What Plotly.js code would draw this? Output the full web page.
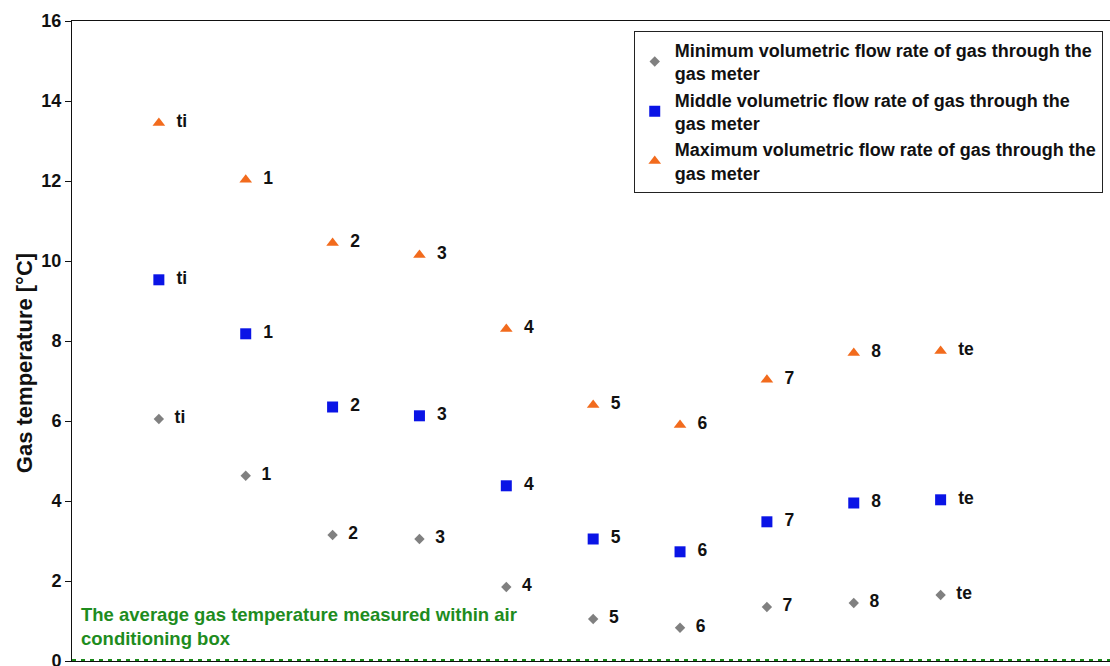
<!DOCTYPE html>
<html>
<head>
<meta charset="utf-8">
<script src="https://cdn.plot.ly/plotly-3.0.1.min.js"></script>
<style>html,body{margin:0;padding:0;background:#fff;}#chart{width:1110px;height:666px;}</style>
</head>
<body>
<div id="chart"></div>
<script>
const pointLabels = ['ti','1','2','3','4','5','6','7','8','te'];
const positions = [1,2,3,4,5,6,7,8,9,10];
const minFlow = [6.05,4.63,3.15,3.05,1.85,1.05,0.83,1.35,1.45,1.65];
const midFlow = [9.53,8.18,6.35,6.13,4.38,3.05,2.73,3.48,3.95,4.03];
const maxFlow = [13.45,12.03,10.45,10.15,8.3,6.4,5.9,7.03,7.7,7.75];
const seriesNames = [
  'Minimum volumetric flow rate of gas through the<br>gas meter',
  'Middle volumetric flow rate of gas through the<br>gas meter',
  'Maximum volumetric flow rate of gas through the<br>gas meter'
];
const yTicks = [0,2,4,6,8,10,12,14,16];
const yTitle = 'Gas temperature [°C]';
const airBoxTemp = 0;
const airBoxNote = 'The average gas temperature measured within air<br>conditioning box';

const FONT = 'Liberation Sans, Arial, sans-serif';
const lbl = pointLabels.map(s => '\u00a0\u00a0' + s);

function tr(y, name, color, symbol, size) {
  return {
    x: positions, y: y, name: name, type: 'scatter', mode: 'markers+text',
    text: lbl, textposition: 'middle right',
    textfont: {family: FONT, size: 17.5, weight: 'bold', color: '#111'},
    marker: {color: color, symbol: symbol, size: size},
    hoverinfo: 'skip'
  };
}

const data = [
  tr(minFlow, seriesNames[0], '#808080', 'diamond', 8),
  tr(midFlow, seriesNames[1], '#0a14e6', 'square', 11),
  tr(maxFlow, seriesNames[2], '#f26b1d', 'triangle-up', 11)
];

const layout = {
  width: 1110, height: 666,
  margin: {l: 72, r: 0, t: 21, b: 5},
  paper_bgcolor: '#fff', plot_bgcolor: '#fff',
  font: {family: FONT, color: '#111'},
  showlegend: true,
  legend: {
    x: 0.993, y: 0.985, xanchor: 'right', yanchor: 'top',
    bgcolor: '#fff', bordercolor: '#222', borderwidth: 1,
    font: {family: FONT, size: 18, weight: 'bold', color: '#111'},
    itemwidth: 30
  },
  xaxis: {
    range: [0, 11.95], showgrid: false, zeroline: false,
    showticklabels: false, ticks: '',
    showline: true, linecolor: '#111', linewidth: 1, mirror: true
  },
  yaxis: {
    range: [0, 16], tickvals: yTicks, ticktext: yTicks.map(String),
    showgrid: false, zeroline: false,
    ticks: 'outside', ticklen: 6, tickcolor: '#111',
    ticklabeloverflow: 'allow',
    showline: true, linecolor: '#111', linewidth: 1,
    tickfont: {family: FONT, size: 18, weight: 'bold', color: '#111'}
  },
  shapes: [{
    type: 'line', xref: 'paper', x0: 0, x1: 1, yref: 'y', y0: airBoxTemp, y1: airBoxTemp,
    line: {color: '#1a8a1a', width: 4, dash: '4px,5px'}
  }],
  annotations: [{
    xref: 'x', yref: 'y', x: 0.08, y: 0.86, xanchor: 'left', yanchor: 'middle', align: 'left',
    showarrow: false,
    text: airBoxNote,
    font: {family: FONT, size: 18.5, weight: 'bold', color: '#1e8c1e'}
  }, {
    xref: 'paper', yref: 'paper', x: -0.0455, y: 0.465, xanchor: 'center', yanchor: 'middle',
    textangle: -90, showarrow: false, text: yTitle,
    font: {family: FONT, size: 22, weight: 'bold', color: '#111'}
  }]
};

Plotly.newPlot('chart', data, layout, {staticPlot: true, displayModeBar: false});
</script>
</body>
</html>
